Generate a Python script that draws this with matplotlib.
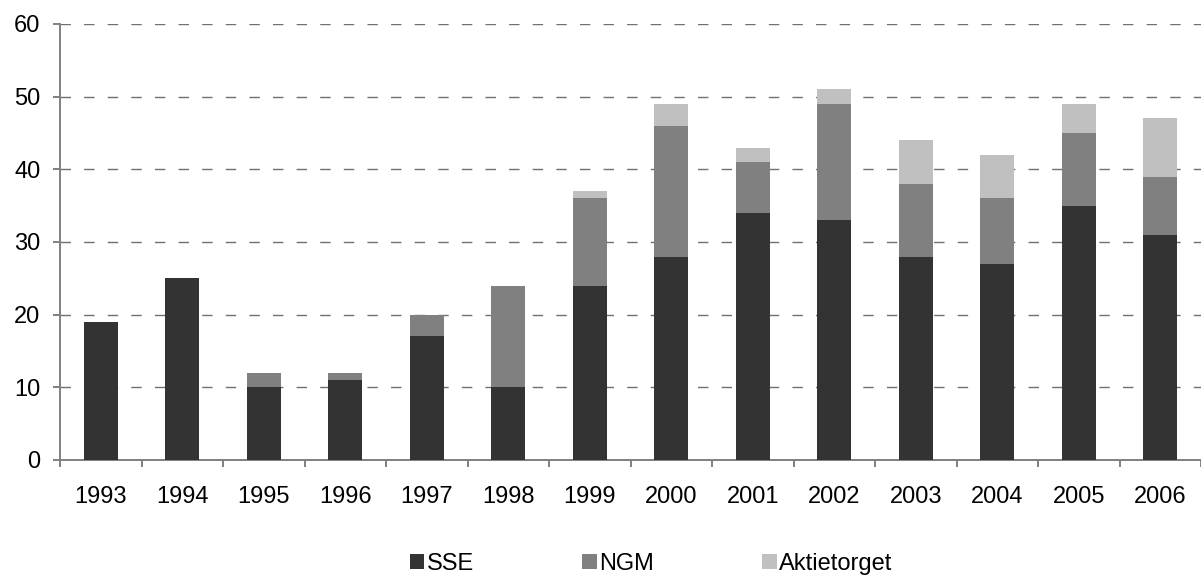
import numpy as np
import matplotlib
matplotlib.use('Agg')
import matplotlib.pyplot as plt

plt.rcParams['font.family'] = ['Liberation Sans', 'DejaVu Sans']

# listings per year on each marketplace
years = ['1993', '1994', '1995', '1996', '1997', '1998', '1999',
         '2000', '2001', '2002', '2003', '2004', '2005', '2006']
sse = [19, 25, 10, 11, 17, 10, 24, 28, 34, 33, 28, 27, 35, 31]
ngm = [0, 0, 2, 1, 3, 14, 12, 18, 7, 16, 10, 9, 10, 8]
aktietorget = [0, 0, 0, 0, 0, 0, 1, 3, 2, 2, 6, 6, 4, 8]

COL_SSE = '#333333'
COL_NGM = '#808080'
COL_AKT = '#c0c0c0'
AXIS_GRAY = '#808080'
FS = 17

fig = plt.figure(figsize=(12.01, 5.78), dpi=100)
ax = fig.add_axes([60 / 1201, 1 - 460 / 578, 1 - 60 / 1201, 436 / 578])

x = np.arange(len(years))
w = 0.42
sse = np.array(sse)
ngm = np.array(ngm)
aktietorget = np.array(aktietorget)

b1 = ax.bar(x, sse, w, color=COL_SSE, label='SSE', zorder=3)
b2 = ax.bar(x, ngm, w, bottom=sse, color=COL_NGM, label='NGM', zorder=3)
b3 = ax.bar(x, aktietorget, w, bottom=sse + ngm, color=COL_AKT,
            label='Aktietorget', zorder=3)

ax.set_xlim(-0.5, len(years) - 0.5)
ax.set_ylim(0, 60)
ax.set_yticks(np.arange(0, 61, 10))

# dashed horizontal grid
for yv in range(10, 61, 10):
    ax.axhline(yv, color='#707070', lw=1.0, linestyle=(0, (7.5, 9.5)), zorder=1)

ax.spines['top'].set_visible(False)
ax.spines['right'].set_visible(False)
for s in ['left', 'bottom']:
    ax.spines[s].set_color(AXIS_GRAY)
    ax.spines[s].set_linewidth(1.4)

# year labels centred, ticks between categories
ax.set_xticks(x)
ax.set_xticklabels(years)
ax.set_xticks(np.arange(-0.5, len(years), 1.0), minor=True)
ax.tick_params(axis='x', which='major', length=0, pad=19, labelsize=FS)
ax.tick_params(axis='x', which='minor', length=5, width=1.4, color=AXIS_GRAY,
               direction='out')
ax.tick_params(axis='y', length=5, width=1.4, color=AXIS_GRAY, pad=9,
               labelsize=FS)

fig.legend(handles=[b1, b2, b3], labels=['SSE', 'NGM', 'Aktietorget'],
           loc='center left', bbox_to_anchor=(410 / 1201, 1 - 564 / 578),
           ncol=3, frameon=False, fontsize=FS, handlelength=0.6,
           handleheight=0.6, handletextpad=0.1, columnspacing=4.6,
           borderpad=0, borderaxespad=0)

fig.savefig('out.png', dpi=100)
